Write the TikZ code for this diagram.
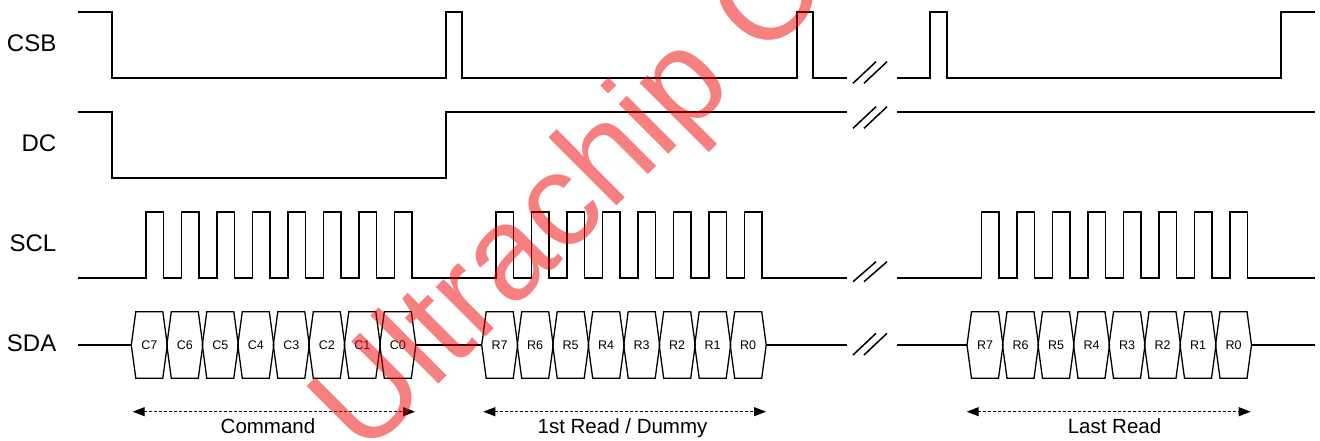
\documentclass[tikz,border=0pt]{standalone}
\usepackage{fontspec}
\setmainfont{Liberation Sans}
\usetikzlibrary{arrows.meta}
\definecolor{wmred}{RGB}{238,0,0}
\begin{document}
\begin{tikzpicture}[x=1pt,y=-1pt,
  wave/.style={line width=1.6pt, line join=miter},
  hexbox/.style={line width=1.3pt, line join=miter},
  brk/.style={line width=1.5pt},
  siglbl/.style={anchor=base east, inner sep=0pt, font=\fontsize{24}{24}\selectfont},
  bitlbl/.style={inner sep=0pt, anchor=base, font=\fontsize{12.5}{12.5}\selectfont},
  spanarrow/.style={line width=1pt, dash pattern=on 3pt off 2pt, {Triangle[length=12pt,width=9pt]}-{Triangle[length=12pt,width=9pt]}},
  spanlbl/.style={inner sep=0pt, anchor=base, font=\fontsize{20.5}{20.5}\selectfont},
  watermark/.style={anchor=base west, inner sep=0pt, rotate=45, text=wmred, text opacity=0.5, font=\fontsize{133}{133}\selectfont}
]
\useasboundingbox (0,0) rectangle (1320,441);
\clip (0,0) rectangle (1320,441);

% signal labels
\node[siglbl] (lcsb) at (56.5,51.7) {CSB};
\node[siglbl] (ldc)  at (56.5,151.7) {DC};
\node[siglbl] (lscl) at (56.5,251.7) {SCL};
\node[siglbl] (lsda) at (56.5,351.7) {SDA};

% CSB
\draw[wave] (78,12) -- (112,12) -- (112,78) -- (446,78) -- (446,12) -- (462,12) -- (462,78)
  -- (797,78) -- (797,12) -- (813,12) -- (813,78) -- (847,78);
\draw[wave] (897,78) -- (930,78) -- (930,12) -- (947,12) -- (947,78) -- (1281,78) -- (1281,12) -- (1315,12);

% DC
\draw[wave] (78,112) -- (112,112) -- (112,178) -- (446,178) -- (446,112) -- (847,112);
\draw[wave] (897,112) -- (1315,112);

% SCL
\draw[wave] (78,278)
  foreach \k in {0,...,7}{ -- ({146+35.5*\k},278) -- ({146+35.5*\k},212) -- ({163.6+35.5*\k},212) -- ({163.6+35.5*\k},278) }
  foreach \k in {0,...,7}{ -- ({496+35.5*\k},278) -- ({496+35.5*\k},212) -- ({513.6+35.5*\k},212) -- ({513.6+35.5*\k},278) }
  -- (847,278);
\draw[wave] (897,278)
  foreach \k in {0,...,7}{ -- ({981.5+35.5*\k},278) -- ({981.5+35.5*\k},212) -- ({999.1+35.5*\k},212) -- ({999.1+35.5*\k},278) }
  -- (1315,278);

% SDA hexagons
\foreach \x/\p/\g in {149.3/C/a, 499.7/R/b, 985/R/c}{
  \foreach \k in {0,...,7}{
    \pgfmathsetmacro\c{\x+35.5*\k}
    \pgfmathtruncatemacro\n{7-\k}
    \draw[hexbox] (\c-18,345) -- (\c-13.5,311.7) -- (\c+13.5,311.7) -- (\c+18,345)
      -- (\c+13.5,378.3) -- (\c-13.5,378.3) -- cycle;
    \node[bitlbl] (\g\n) at (\c,349.5) {\p\n};
  }
}
\draw[hexbox] (78,345) -- (131.3,345);
\draw[hexbox] (415.8,345) -- (481.7,345);
\draw[hexbox] (766.2,345) -- (847,345);
\draw[hexbox] (897,345) -- (967,345);
\draw[hexbox] (1251.5,345) -- (1315,345);

% break marks
\foreach \ya/\yb in {83.3/61.7, 128.3/106.7, 281.7/261.7, 355/333.3}{
  \draw[brk] (853,\ya) -- (876,\yb);
  \draw[brk] (864,\ya) -- (887,\yb);
}

% span arrows
\coordinate (cmdL) at (132.7,411.7);
\coordinate (cmdR) at (415,411.7);
\coordinate (rd1L) at (483.3,411.7);
\coordinate (rd1R) at (766,411.7);
\coordinate (rdnL) at (966.7,411.7);
\coordinate (rdnR) at (1250.7,411.7);
\draw[spanarrow] (cmdL) -- (cmdR);
\draw[spanarrow] (rd1L) -- (rd1R);
\draw[spanarrow] (rdnL) -- (rdnR);
\node[spanlbl] (tcmd) at (268,433) {Command};
\node[spanlbl] (trd1) at (622.5,433) {1st Read / Dummy};
\node[spanlbl] (trdn) at (1114.5,433) {Last Read};

% watermark
\node[watermark] (wm) at (364.8,458.3) {Ultrachip C};
\end{tikzpicture}
\end{document}
